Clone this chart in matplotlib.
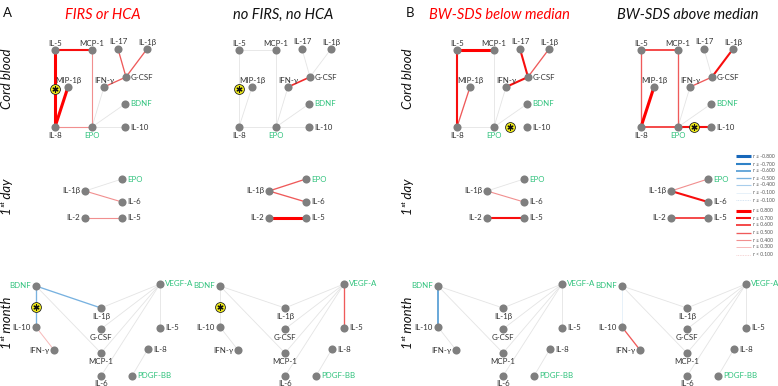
import numpy as np
import matplotlib.pyplot as plt

# 1. 데이터 (그림에서 읽은 상관계수 r)
panel_titles = ['FIRS or HCA', 'no FIRS, no HCA', 'BW-SDS below median', 'BW-SDS above median']
title_colors = ['#ff0000', '#111111', '#ff0000', '#111111']
panel_letters = ['A', 'B']
row_names = ['Cord blood', '1ˢᵗ day', '1ˢᵗ month']
green_nodes = ['EPO', 'BDNF', 'VEGF-A', 'PDGF-BB']

cord_edges = [('IL-5', 'MCP-1'), ('IL-5', 'IL-8'), ('MIP-1β', 'IL-8'), ('MCP-1', 'EPO'),
              ('IL-8', 'EPO'), ('IL-17', 'G-CSF'), ('IL-1β', 'G-CSF'), ('IFN-γ', 'G-CSF'),
              ('IFN-γ', 'EPO'), ('BDNF', 'EPO'), ('IL-10', 'EPO')]
cord_r = [
    [0.70, 0.80, 0.80, 0.40, 0.40, 0.50, 0.50, 0.50, 0.05, 0.05, 0.05],
    [0.05, 0.05, 0.05, 0.05, 0.05, 0.05, 0.05, 0.60, 0.05, 0.05, 0.05],
    [0.80, 0.70, 0.50, 0.05, 0.05, 0.70, 0.50, 0.70, 0.05, 0.05, np.nan],
    [0.60, 0.50, 0.80, 0.50, 0.60, 0.05, 0.70, 0.50, 0.05, 0.05, 0.70],
]
cord_star = [('IL-5', 'IL-8'), ('IL-5', 'IL-8'), ('EPO', 'IL-10'), ('EPO', 'IL-10')]

day_edges = [('IL-1β', 'EPO'), ('IL-1β', 'IL-6'), ('IL-2', 'IL-5')]
day_r = [
    [0.05, 0.40, 0.40],
    [0.50, 0.50, 0.80],
    [0.05, 0.40, 0.70],
    [0.40, 0.70, 0.60],
]

month_edges = [('BDNF', 'IL-10'), ('IL-10', 'IFN-γ'), ('BDNF', 'IL-1β'), ('BDNF', 'MCP-1'),
               ('VEGF-A', 'IL-1β'), ('VEGF-A', 'G-CSF'), ('VEGF-A', 'MCP-1'), ('VEGF-A', 'IL-6'),
               ('VEGF-A', 'IL-5'), ('IL-8', 'PDGF-BB')]
month_r = [
    [-0.50, 0.30, -0.50, 0.05, 0.05, 0.05, 0.05, 0.05, 0.05, 0.05],
    [0.05, 0.05, 0.05, 0.05, 0.05, 0.05, 0.05, 0.05, 0.50, 0.05],
    [-0.60, 0.05, 0.05, 0.05, 0.05, 0.05, 0.05, 0.05, 0.05, 0.05],
    [-0.20, 0.50, 0.05, 0.05, 0.05, 0.05, 0.05, 0.05, 0.05, 0.05],
]
month_star = [('BDNF', 'IL-10'), ('BDNF', 'IL-10'), None, None]

legend_neg_r = [-0.8, -0.7, -0.6, -0.5, -0.4, -0.2, -0.05]
legend_neg_labels = ['r ≤ -0.800', 'r ≤ -0.700', 'r ≤ -0.600', 'r ≤ -0.500',
                     'r ≤ -0.400', 'r ≤ -0.100', 'r ≤ -0.100']
legend_pos_r = [0.8, 0.7, 0.6, 0.5, 0.4, 0.3, 0.05]
legend_pos_labels = ['r ≥ 0.800', 'r ≥ 0.700', 'r ≥ 0.600', 'r ≥ 0.500',
                     'r ≥ 0.400', 'r ≥ 0.300', 'r < 0.100']

# 2. 레이아웃 (패널 A1 기준 픽셀 좌표, 라벨 위치)
cord_layout = {
    'IL-5': (55, 50, 'above'), 'MCP-1': (92, 50, 'above'), 'IL-17': (118, 49, 'above'),
    'IL-1β': (147, 49, 'above'), 'MIP-1β': (68, 87, 'above'), 'IFN-γ': (104, 87, 'above'),
    'G-CSF': (126, 77, 'right'), 'BDNF': (125, 104, 'right'), 'IL-8': (55, 127, 'below'),
    'EPO': (92, 127, 'below'), 'IL-10': (125, 127, 'right'),
}
day_layout = {
    'IL-1β': (86, 191, 'left'), 'EPO': (123, 179, 'right'), 'IL-6': (123, 202, 'right'),
    'IL-2': (86, 218, 'left'), 'IL-5': (123, 218, 'right'),
}
month_layout = {
    'BDNF': (36, 286, 'left'), 'IL-10': (36, 327, 'left'), 'IFN-γ': (54, 350, 'left'),
    'IL-1β': (101, 308, 'below'), 'G-CSF': (101, 329, 'below'), 'MCP-1': (101, 353, 'below'),
    'IL-6': (101, 376, 'below'), 'VEGF-A': (160, 284, 'right'), 'IL-5': (160, 328, 'right'),
    'IL-8': (148, 349, 'right'), 'PDGF-BB': (132, 376, 'right'),
}
panel_x = [0, 184, 402, 586]

plt.rcParams['font.family'] = ['Lato', 'DejaVu Sans']

RED = ['#fadada', '#f7b9b9', '#f18f8f', '#ef5a5a', '#f22a2a', '#f80e0e', '#ff0000']
BLUE = ['#e3eff9', '#cfe3f4', '#a8cdec', '#78b2e0', '#4f99d3', '#2f82c7', '#1767ba']
WIDTH = [0.6, 0.7, 0.8, 0.95, 1.2, 1.5, 2.2]


def edge_style(r):
    a = abs(r)
    if a < 0.1:
        return '#e4e4e4', 0.6
    lvl = int(np.clip(np.floor(a * 10 + 1e-9) - 2, 0, 6))
    return (RED if r > 0 else BLUE)[lvl], WIDTH[lvl]


def draw_network(ax, layout, edges, rs, dx, star=None):
    pos = {k: (v[0] + dx, v[1]) for k, v in layout.items()}
    for (a, b), r in zip(edges, rs):
        if np.isnan(r):
            continue
        c, lw = edge_style(r)
        ax.plot([pos[a][0], pos[b][0]], [pos[a][1], pos[b][1]], color=c, lw=lw,
                solid_capstyle='butt', zorder=1 + abs(r))
    xs = [p[0] for p in pos.values()]
    ys = [p[1] for p in pos.values()]
    ax.scatter(xs, ys, s=34, color='#7f7f7f', zorder=5, linewidths=0)
    for name, (x, y, where) in layout.items():
        x += dx
        col = '#2fc27c' if name in green_nodes else '#333333'
        kw = dict(fontsize=5.7, color=col, va='center')
        if where == 'above':
            ax.text(x, y - 7, name, ha='center', **kw)
        elif where == 'below':
            ax.text(x, y + 8, name, ha='center', **kw)
        elif where == 'right':
            ax.text(x + 5, y, name, ha='left', **kw)
        else:
            ax.text(x - 5, y, name, ha='right', **kw)
    if star is not None:
        (x1, y1), (x2, y2) = pos[star[0]], pos[star[1]]
        sx, sy = (x1 + x2) / 2, (y1 + y2) / 2
        ax.scatter([sx], [sy], s=50, color='#f7f21a', edgecolors='#222222', linewidths=0.6, zorder=7)
        ax.scatter([sx], [sy], s=14, marker=(6, 2, 0), color='#111111', linewidths=0.9, zorder=8)


fig = plt.figure(figsize=(7.78, 3.86), dpi=100)
ax = fig.add_axes([0, 0, 1, 1])
ax.set_xlim(0, 778)
ax.set_ylim(386, 0)
ax.axis('off')

for i in range(4):
    dx = panel_x[i]
    draw_network(ax, cord_layout, cord_edges, cord_r[i], dx, cord_star[i])
    draw_network(ax, day_layout, day_edges, day_r[i], dx - 1)
    draw_network(ax, month_layout, month_edges, month_r[i], dx, month_star[i])

title_x = [103, 283, 499, 688]
for i, t in enumerate(panel_titles):
    ax.text(title_x[i], 15, t, ha='center', va='center', fontsize=10.5,
            style='italic', color=title_colors[i])

for lx, letter in zip([7, 410], panel_letters):
    ax.text(lx, 13, letter, ha='center', va='center', fontsize=9.5, color='#111111')

row_y = [79, 197, 323]
for lx in [1, 402]:
    for ry, name in zip(row_y, row_names):
        ax.text(lx, ry, name, ha='left', va='center', rotation=90, fontsize=9.5,
                style='italic', color='#111111')

# 3. 범례
leg_y_neg = [156, 164, 171, 178, 185, 193, 200]
leg_y_pos = [211, 218, 225, 233, 240, 247, 255]
for ys, rs, labels in [(leg_y_neg, legend_neg_r, legend_neg_labels),
                       (leg_y_pos, legend_pos_r, legend_pos_labels)]:
    for y, r, lab in zip(ys, rs, labels):
        c, lw = edge_style(r)
        ls = (0, (1, 1)) if abs(r) < 0.1 else '-'
        if abs(r) < 0.1:
            c = '#c9dcef' if r < 0 else '#f1c9c9'
        ax.plot([736, 751], [y, y], color=c, lw=lw, ls=ls, solid_capstyle='butt')
        ax.text(753, y, lab, ha='left', va='center', fontsize=3.6, color='#555555')

fig.savefig('out.png', dpi=100)
